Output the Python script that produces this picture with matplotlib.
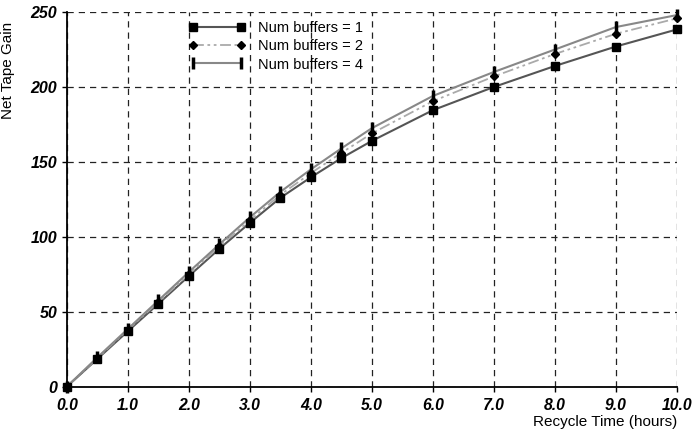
import matplotlib.pyplot as plt
from matplotlib.lines import Line2D

# Data
hours = [0.0, 0.5, 1.0, 1.5, 2.0, 2.5, 3.0, 3.5, 4.0, 4.5, 5.0, 6.0, 7.0, 8.0, 9.0, 10.0]
gain_buf1 = [0, 18.5, 37, 55.3, 73.8, 92, 109.3, 126, 139.7, 152.5, 164, 184.5, 200, 214, 227, 238.4]
gain_buf2 = [0, 19, 38, 56.5, 75, 93.5, 111, 128, 142.5, 156, 169, 190.5, 207, 222, 235.5, 245.8]
gain_buf4 = [0, 19.5, 38.5, 57.5, 76.5, 95, 113, 130, 145, 159, 172.5, 194, 210, 225, 240, 248]
series_labels = ["Num buffers = 1", "Num buffers = 2", "Num buffers = 4"]

x_ticks = [0, 1, 2, 3, 4, 5, 6, 7, 8, 9, 10]
y_ticks = [0, 50, 100, 150, 200, 250]

plt.rcParams['font.family'] = ['Liberation Sans', 'DejaVu Sans']

fig = plt.figure(figsize=(6.92, 4.32), dpi=100)
ax = fig.add_axes([0.0968, 0.1053, 0.8812, 0.8667])

dash2 = (6, 2, 1.5, 2, 1.5, 2)

# curves
ax.plot(hours, gain_buf1, color='#555555', lw=1.5, zorder=3)
ax.plot(hours, gain_buf2, color='#aaaaaa', lw=1.3, dashes=dash2, zorder=3)
ax.plot(hours, gain_buf4, color='#888888', lw=1.5, zorder=3)

# markers
ax.plot(hours, gain_buf1, ls='none', marker='s', ms=5.5, color='black', zorder=4, clip_on=False)
ax.plot(hours, gain_buf2, ls='none', marker='D', ms=3.8, color='black', zorder=5, clip_on=False)
ax.plot(hours, gain_buf4, ls='none', marker='|', ms=8, mew=2.5, color='black', zorder=5, clip_on=False)

ax.set_xlim(0, 10)
ax.set_ylim(0, 250)
ax.set_xticks(x_ticks)
ax.set_yticks(y_ticks)
ax.set_xticklabels([f"{v:.1f}" for v in x_ticks], fontsize=11.3, fontweight='bold', style='italic')
ax.set_yticklabels([str(v) for v in y_ticks], fontsize=11.5, fontweight='bold', style='italic')
ax.tick_params(direction='out', length=3.5, width=1, color='black')
ax.tick_params(axis='x', pad=4.5)
ax.tick_params(axis='y', pad=3.5)

ax.grid(True, color='#222222', ls=(0, (5, 4)), lw=0.9)
ax.set_axisbelow(True)
for s in ['top', 'right']:
    ax.spines[s].set_visible(False)
for s in ['left', 'bottom']:
    ax.spines[s].set_linewidth(1.3)

ax.set_ylabel("Net Tape Gain", fontsize=11)
ax.yaxis.set_label_coords(-0.085, 0.843)
ax.set_xlabel("Recycle Time (hours)", fontsize=11, ha='right', va='center')
ax.xaxis.set_label_coords(1.0, -0.094)

handles = [
    Line2D([], [], color='#555555', lw=1.5, marker='s', ms=5.5, mfc='black', mec='black'),
    Line2D([], [], color='#aaaaaa', lw=1.3, dashes=dash2, marker='D', ms=3.8, mfc='black', mec='black'),
    Line2D([], [], color='#888888', lw=1.5, marker='|', ms=8, mew=2.5, mec='black'),
]
leg = ax.legend(handles, series_labels, loc='upper left', bbox_to_anchor=(0.185, 1.0),
                frameon=False, numpoints=2, handlelength=3.9, handletextpad=0.85,
                labelspacing=0.3, fontsize=10.5, borderaxespad=0.2)

plt.savefig('out.png', dpi=100)
